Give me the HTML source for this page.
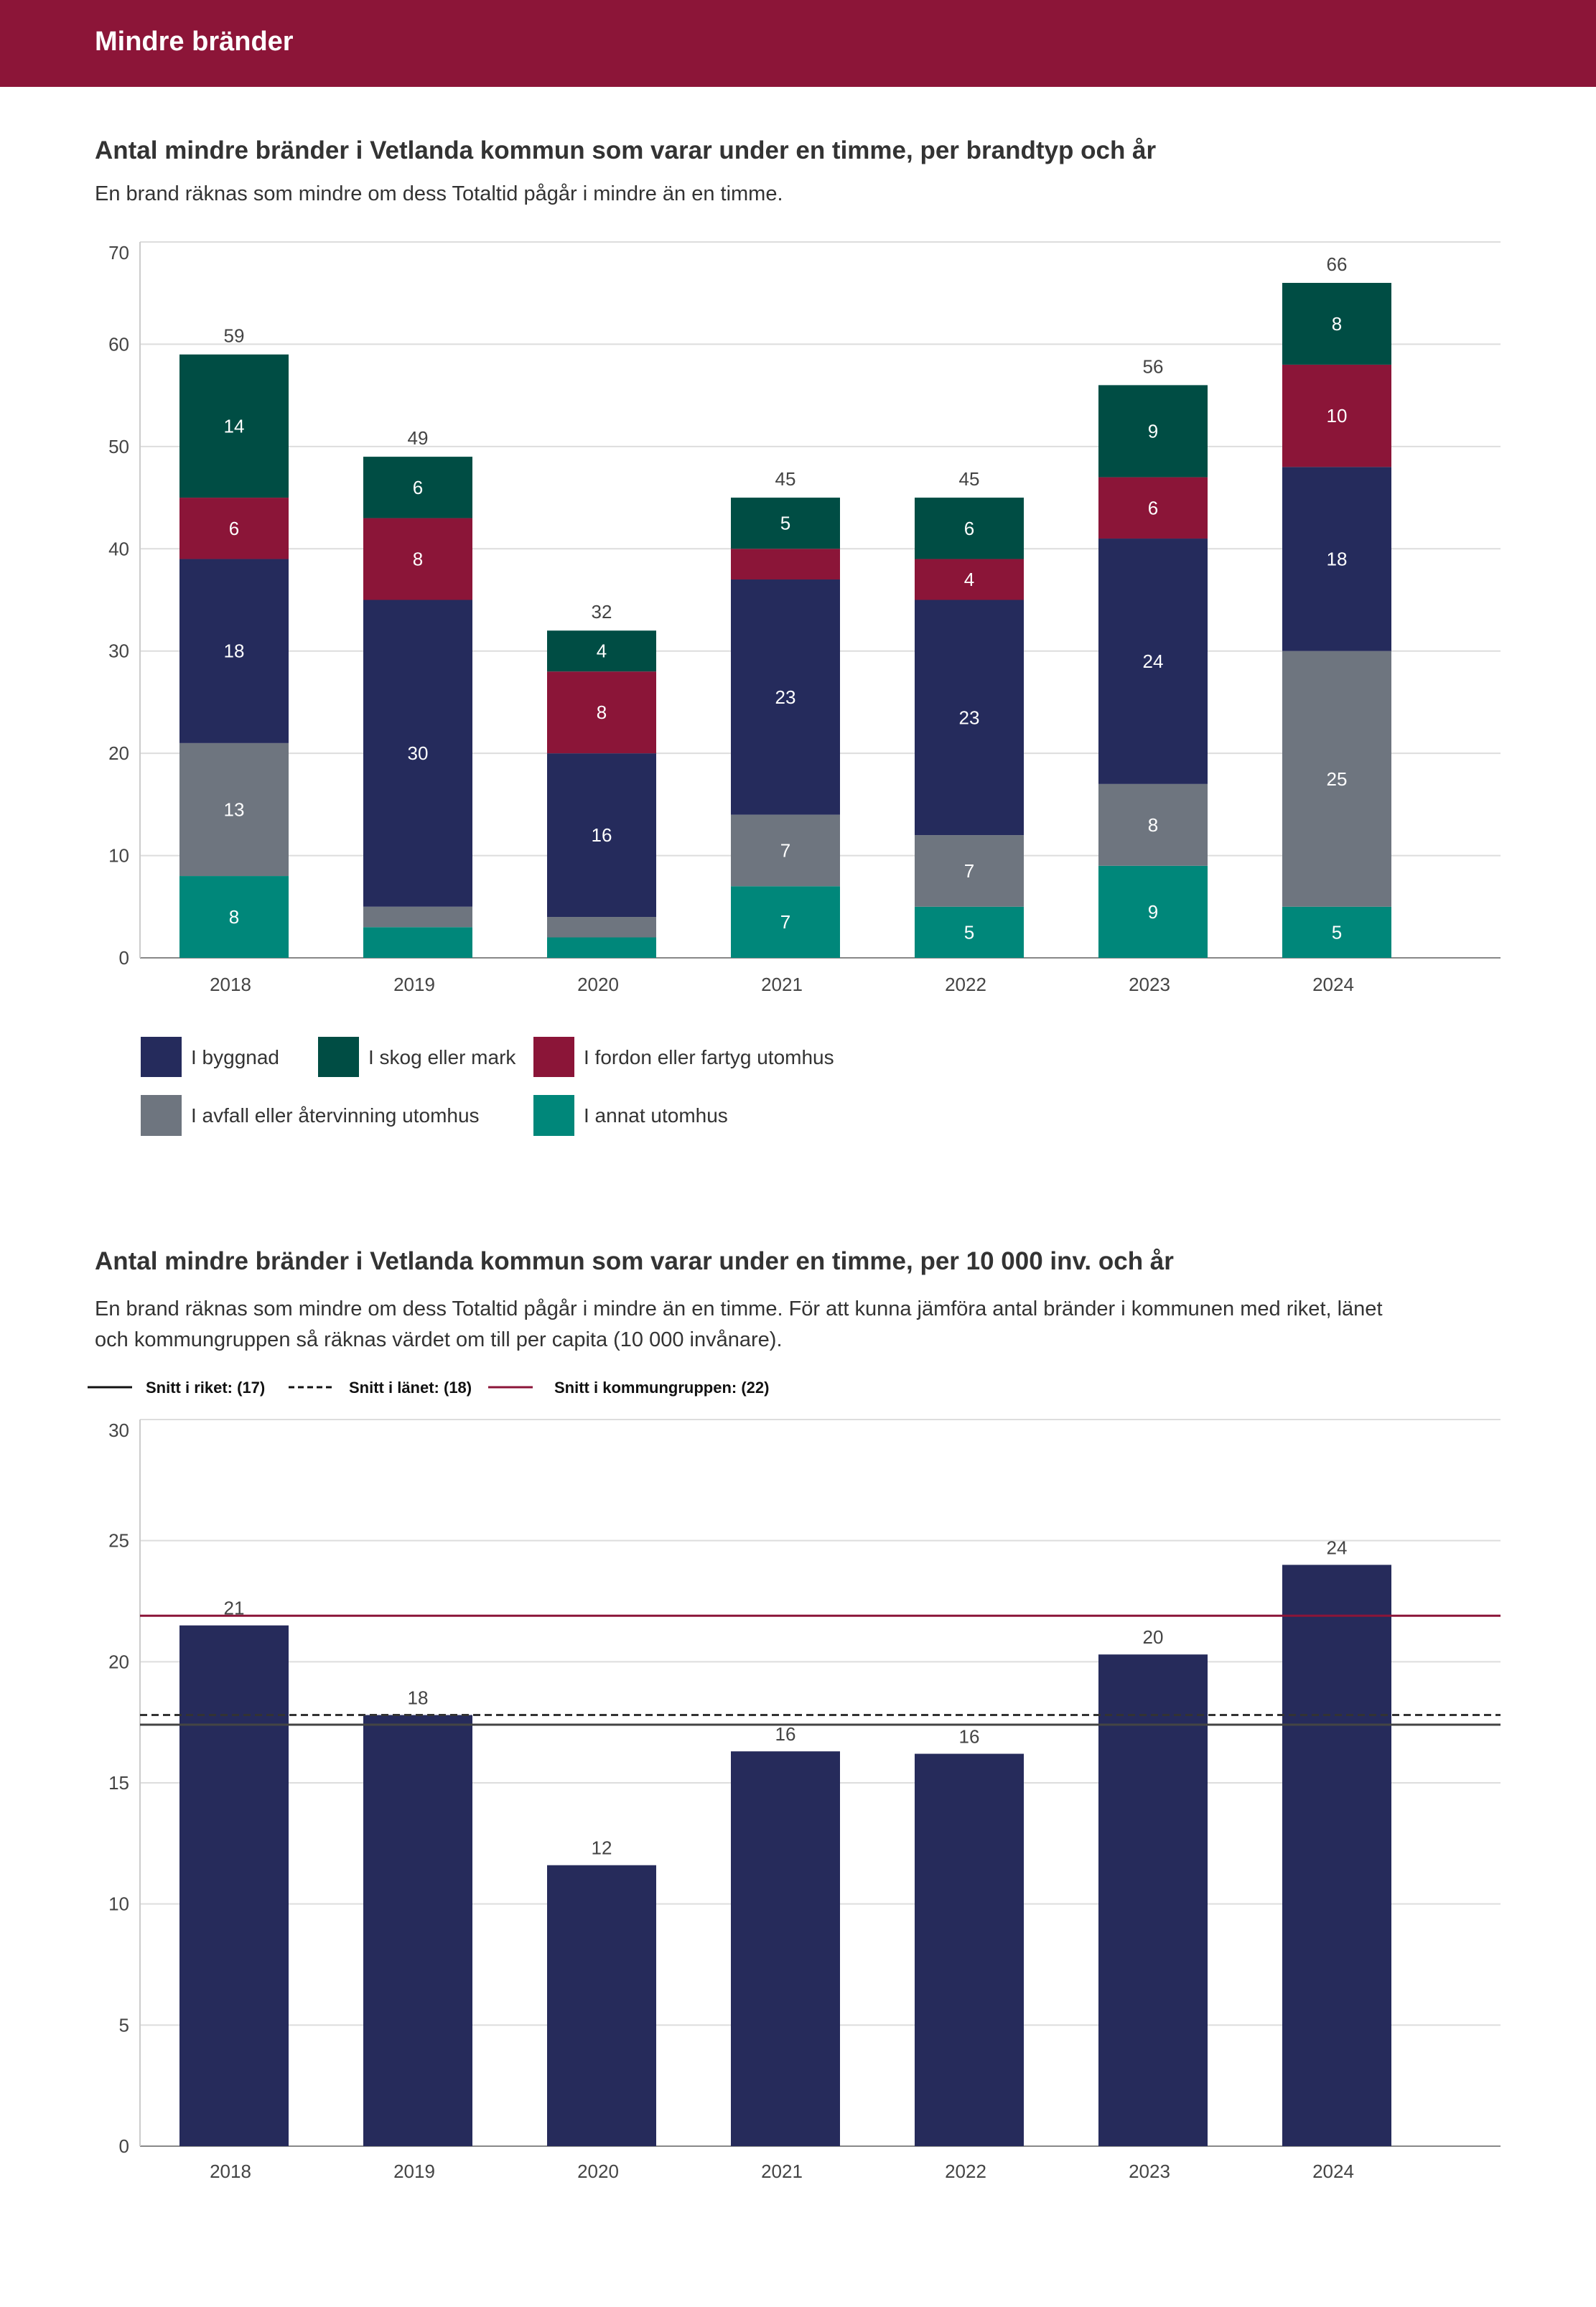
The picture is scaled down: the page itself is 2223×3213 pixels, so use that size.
<!DOCTYPE html>
<html><head><meta charset="utf-8"><style>
body{margin:0;background:#fff;}
svg{display:block;font-family:"Liberation Sans",sans-serif;}
</style></head><body>
<svg id="page" width="2223" height="3213" viewBox="0 0 2223 3213" xmlns="http://www.w3.org/2000/svg">
<rect x="0" y="0" width="2223" height="121" fill="#8c1538"/>
<text x="132" y="70" font-size="38" font-weight="bold" fill="#fff">Mindre bränder</text>
<text x="132" y="221" font-size="35" font-weight="bold" fill="#333">Antal mindre bränder i Vetlanda kommun som varar under en timme, per brandtyp och år</text>
<text x="132" y="279" font-size="29" fill="#333">En brand räknas som mindre om dess Totaltid pågår i mindre än en timme.</text>
<g id="c1"></g>
<g>
<g><rect x="196" y="1444" width="57" height="56" fill="#252b5c"/><text x="266" y="1482" font-size="28" fill="#333">I byggnad</text></g>
<g><rect x="443" y="1444" width="57" height="56" fill="#004d44"/><text x="513" y="1482" font-size="28" fill="#333">I skog eller mark</text></g>
<g><rect x="743" y="1444" width="57" height="56" fill="#8b1538"/><text x="813" y="1482" font-size="28" fill="#333">I fordon eller fartyg utomhus</text></g>
<g><rect x="196" y="1525" width="57" height="57" fill="#6e757f"/><text x="266" y="1563" font-size="28" fill="#333">I avfall eller återvinning utomhus</text></g>
<g><rect x="743" y="1525" width="57" height="57" fill="#00877a"/><text x="813" y="1563" font-size="28" fill="#333">I annat utomhus</text></g>
</g>
<text x="132" y="1768" font-size="35" font-weight="bold" fill="#333">Antal mindre bränder i Vetlanda kommun som varar under en timme, per 10 000 inv. och år</text>
<text x="132" y="1832" font-size="29" fill="#333">En brand räknas som mindre om dess Totaltid pågår i mindre än en timme. För att kunna jämföra antal bränder i kommunen med riket, länet</text>
<text x="132" y="1875" font-size="29" fill="#333">och kommungruppen så räknas värdet om till per capita (10 000 invånare).</text>
<g>
<line x1="122" y1="1932" x2="184" y2="1932" stroke="#111" stroke-width="3"/>
<text x="203" y="1940" font-size="22" font-weight="bold" fill="#111">Snitt i riket: (17)</text>
<line x1="402" y1="1932" x2="463" y2="1932" stroke="#111" stroke-width="3" stroke-dasharray="8,5"/>
<text x="486" y="1940" font-size="22" font-weight="bold" fill="#111">Snitt i länet: (18)</text>
<line x1="680" y1="1932" x2="742" y2="1932" stroke="#8b1538" stroke-width="3"/>
<text x="772" y="1940" font-size="22" font-weight="bold" fill="#111">Snitt i kommungruppen: (22)</text>
</g>
<g id="c2"></g>
</svg>
<script>
const years = ["2018","2019","2020","2021","2022","2023","2024"];
const annat = [8,3,2,7,5,9,5];
const avfall = [13,2,2,7,7,8,25];
const byggnad = [18,30,16,23,23,24,18];
const fordon = [6,8,8,3,4,6,10];
const skog = [14,6,4,5,6,9,8];
const yTicks1 = [0,10,20,30,40,50,60,70];
const perCapita = [21.5,17.8,11.6,16.3,16.2,20.3,24.0];
const perCapitaLabels = ["21","18","12","16","16","20","24"];
const yTicks2 = [0,5,10,15,20,25,30];
const avgRiket = 17.4, avgLanet = 17.8, avgGrupp = 21.9;

const NS="http://www.w3.org/2000/svg";
function mk(parent,tag,attrs,txt){const e=document.createElementNS(NS,tag);for(const k in attrs)e.setAttribute(k,attrs[k]);if(txt!==undefined)e.textContent=txt;parent.appendChild(e);return e;}
const X0=195,X1=2090,step=256,bw=152,firstC=326;
const xc=i=>firstC+i*step;

// chart 1
const c1=document.getElementById('c1');
const t1=337,b1=1334,max1=70;
const y1=v=>b1-(v/max1)*(b1-t1);
yTicks1.forEach((v,k)=>{
  const l=mk(c1,'line',{x1:X0,x2:X1,y1:y1(v),y2:y1(v),stroke:v===0?'#888':'#ddd','stroke-width':2});
  
  
  const off=(k===yTicks1.length-1)?24:9;
  const t=mk(c1,'text',{x:180,y:y1(v)+off,'font-size':26,fill:'#444','text-anchor':'end'},v);
  
  
});
mk(c1,'line',{x1:X0,x2:X0,y1:t1,y2:b1,stroke:'#ccc','stroke-width':2});
const series=[[annat,'#00877a','annat'],[avfall,'#6e757f','avfall'],[byggnad,'#252b5c','byggnad'],[fordon,'#8b1538','fordon'],[skog,'#004d44','skog']];
years.forEach((yr,i)=>{
  let acc=0;
  series.forEach(([arr,col,nm])=>{
    const v=arr[i];
    const r=mk(c1,'rect',{x:xc(i)-bw/2,y:y1(acc+v),width:bw,height:y1(acc)-y1(acc+v),fill:col});
    
    
    if(v>=4){
      const t=mk(c1,'text',{x:xc(i),y:(y1(acc)+y1(acc+v))/2+9,'font-size':26,fill:'#fff','text-anchor':'middle'},v);
      
      
    }
    acc+=v;
  });
  const tt=mk(c1,'text',{x:xc(i),y:y1(acc)-17,'font-size':26,fill:'#444','text-anchor':'middle'},acc);
  
  
  const xl=mk(c1,'text',{x:xc(i)-5,y:1380,'font-size':26,fill:'#444','text-anchor':'middle'},yr);
  
  
});

// chart 2
const c2=document.getElementById('c2');
const t2=1977,b2=2989,max2=30;
const y2=v=>b2-(v/max2)*(b2-t2);
yTicks2.forEach((v,k)=>{
  const l=mk(c2,'line',{x1:X0,x2:X1,y1:y2(v),y2:y2(v),stroke:v===0?'#888':'#ddd','stroke-width':2});
  
  
  const off=(k===yTicks2.length-1)?24:9;
  const t=mk(c2,'text',{x:180,y:y2(v)+off,'font-size':26,fill:'#444','text-anchor':'end'},v);
  
  
});
mk(c2,'line',{x1:X0,x2:X0,y1:t2,y2:b2,stroke:'#ccc','stroke-width':2});
years.forEach((yr,i)=>{
  const r=mk(c2,'rect',{x:xc(i)-bw/2,y:y2(perCapita[i]),width:bw,height:b2-y2(perCapita[i]),fill:'#262b5b'});
  
  
  const t=mk(c2,'text',{x:xc(i),y:y2(perCapita[i])-15,'font-size':26,fill:'#444','text-anchor':'middle'},perCapitaLabels[i]);
  
  
  const xl=mk(c2,'text',{x:xc(i)-5,y:3033,'font-size':26,fill:'#444','text-anchor':'middle'},yr);
  
  
});
const lr=mk(c2,'line',{x1:X0,x2:X1,y1:y2(avgRiket),y2:y2(avgRiket),stroke:'#444','stroke-width':3});


const ll=mk(c2,'line',{x1:X0,x2:X1,y1:y2(avgLanet),y2:y2(avgLanet),stroke:'#333','stroke-width':3,'stroke-dasharray':'10,6'});


const lg=mk(c2,'line',{x1:X0,x2:X1,y1:y2(avgGrupp),y2:y2(avgGrupp),stroke:'#8b1538','stroke-width':3});


</script>
</body></html>
